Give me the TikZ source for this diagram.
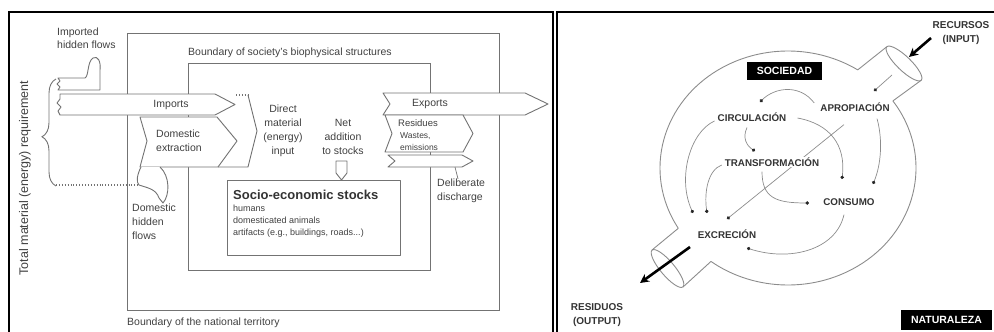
\documentclass[tikz,border=0pt]{standalone}
\usepackage{fontspec}
\setmainfont{Liberation Sans}
\usetikzlibrary{arrows.meta,decorations.pathreplacing,calc,backgrounds}
\begin{document}
\begin{tikzpicture}[x=1pt,y=-1pt,
  frame/.style={draw=black,line width=1.5pt},
  bnd/.style={draw=black!55,line width=0.9pt},
  flow/.style={draw=black!55,line width=0.9pt,fill=white,line join=round},
  lbl/.style={font=\fontsize{10.5}{14}\selectfont,text=black!75,inner sep=0pt},
  small/.style={font=\fontsize{9}{11}\selectfont,text=black!75,inner sep=0pt},
  caplbl/.style={font=\fontsize{9.8}{13}\selectfont\bfseries,text=black!80,inner sep=1pt,fill=white},
  tag/.style={fill=black,text=white,font=\fontsize{10.5}{12}\selectfont\bfseries,inner sep=0pt},
  wall/.style={draw=black!45,line width=0.9pt},
  link/.style={draw=black!45,line width=0.7pt,-{Circle[length=3.4pt,color=black!85]}},
  bigarrow/.style={draw=black,line width=2.6pt,-{Stealth[length=9pt,width=9pt]}}
]
\useasboundingbox (0,0) rectangle (994,332);

% ---------- panel frames ----------
\draw[frame] (9,340) -- (9,12) -- (553,12) -- (553,340);
\draw[frame] (557,340) -- (557,12) -- (1000,12);

% ---------- LEFT PANEL ----------
\draw[bnd] (127,33) rectangle (499,310);
\draw[bnd] (188,63) rectangle (430,270);
\node[lbl,anchor=west] (bsoc) at (188,53) {Boundary of society's biophysical structures};
\node[lbl,anchor=west] (bnat) at (127,323) {Boundary of the national territory};

\node[lbl,rotate=90,font=\fontsize{12.5}{14}\selectfont] (tmr) at (25,178) {Total material (energy) requirement};

% brace and dotted line
\draw[bnd,decorate,decoration={brace,amplitude=14pt,aspect=0.46}] (56,186) -- (56,79);
\coordinate (dotA) at (56,185);
\coordinate (dotB) at (139,185);
\draw[bnd,dotted,line width=1.2pt] (dotA) -- (dotB);

% imported hidden flows (thumb)
\draw[flow] (58,78) -- (85,78) .. controls (89,76) and (87,62) .. (93,58)
  .. controls (98,55) and (101,62) .. (100,70) -- (100,90) -- (58,90)
  -- (60,87) -- (57,84) -- (60,81) -- cycle;
\node[lbl,anchor=west,align=left,font=\fontsize{10.5}{13}\selectfont] (ihf) at (57,38) {Imported\\hidden flows};

% imports
\draw[flow] (60,94) -- (215,94) -- (235,104.5) -- (215,115) -- (60,115)
  -- (58,111) -- (61,107) -- (57,103) -- (60,99) -- cycle;
\node[lbl] (imp) at (171,105) {Imports};

% direct material input region
\coordinate (dmiA) at (236,95);
\coordinate (dmiB) at (248,95);
\draw[bnd,dotted,line width=1.2pt] (dmiA) -- (dmiB);
\draw[bnd] (dmiB) -- (257,131) -- (248,167) -- (218,167);

% domestic extraction
\draw[flow] (140,117) -- (217,117) -- (237,141) -- (218,167) -- (140,167) -- (147,141) -- cycle;
\node[lbl,anchor=west,align=left] (dex) at (156,141) {Domestic\\extraction};

% domestic hidden flows blob
\draw[flow] (141,167) .. controls (137,175) and (136,182) .. (139,185)
  .. controls (148,188) and (156,189) .. (159,198) -- (163,203)
  .. controls (170,195) and (170,176) .. (160,167);
\node[lbl,anchor=north west,align=left] (dhf) at (132,204) {Domestic\\hidden\\flows};

\node[lbl,align=center] (dmi) at (283,131) {Direct\\material\\(energy)\\input};
\node[lbl,align=center] (net) at (343,137) {Net\\addition\\to stocks};

% net addition arrow
\draw[flow] (336,161) -- (347,161) -- (347,173) -- (341.5,180) -- (336,173) -- cycle;

% socio-economic stocks box
\draw[flow] (227,180) rectangle (400,255);
\node[anchor=west,inner sep=0pt,font=\fontsize{13}{15}\selectfont\bfseries,text=black!80] (ses) at (233,195) {Socio-economic stocks};
\node[small,anchor=west] (hum) at (233,208) {humans};
\node[small,anchor=west] (dom) at (233,220) {domesticated animals};
\node[small,anchor=west] (art) at (233,233) {artifacts (e.g., buildings, roads...)};

% exports
\draw[flow] (383,93) -- (525,93) -- (548,104) -- (525,115) -- (383,115) -- (390,104) -- cycle;
\node[lbl] (exp) at (430,104) {Exports};

% residues
\draw[flow] (385,115) -- (463,115) -- (473,133.5) -- (463,152) -- (385,152) -- (392,133.5) -- cycle;
\node[lbl,anchor=west,font=\fontsize{9.5}{11}\selectfont] (res) at (398,123) {Residues};
\node[lbl,anchor=west,font=\fontsize{8.5}{10}\selectfont] (was) at (400,136) {Wastes,};
\node[lbl,anchor=west,font=\fontsize{8.5}{10}\selectfont] (emi) at (400,147) {emissions};

% deliberate discharge
\draw[flow] (388,155) -- (462,155) -- (473,161) -- (462,167) -- (388,167) -- (395,161) -- cycle;
\node[lbl,anchor=west,align=left,font=\fontsize{10.5}{14}\selectfont] (del) at (437,191) {Deliberate\\discharge};
\coordinate (delA) at (455,167);
\draw[bnd,line width=0.7pt] (delA) -- (del.north west -| 458,0) ;

% ---------- RIGHT PANEL ----------
% society circle (two arcs, gaps at the tubes)
\draw[wall] (788,168) ++(325:128 and 117) arc[start angle=325,end angle=487,x radius=128,y radius=117];
\draw[wall] (788,168) ++(149:128 and 117) arc[start angle=149,end angle=303,x radius=128,y radius=117];

% input tube
\draw[wall] (857.7,69.9) -- (886.7,46.8);
\draw[wall] (892.9,100.9) -- (921.3,80.2);
\draw[wall,rotate around={-44:(904,63.5)}] (904,63.5) ellipse[x radius=24,y radius=7];
% output tube
\draw[wall] (678.3,228.3) -- (652,250);
\draw[wall] (711,261.4) -- (683,287);
\draw[wall,rotate around={-50:(667.5,268.5)}] (667.5,268.5) ellipse[x radius=24,y radius=7];

% labels
\node[tag,minimum width=75pt,minimum height=18pt] (soc) at (784.5,71) {SOCIEDAD};
\node[tag,minimum width=91pt,minimum height=20pt] (nat) at (946.5,320) {NATURALEZA};

\node[caplbl] (apro) at (855,107) {APROPIACIÓN};
\node[caplbl] (circ) at (752,117) {CIRCULACIÓN};
\node[caplbl] (trans) at (772,162) {TRANSFORMACIÓN};
\node[caplbl] (cons) at (849,202) {CONSUMO};
\node[caplbl] (excr) at (727,234) {EXCRECIÓN};

\node[caplbl,align=center,fill=none,font=\fontsize{10}{14}\selectfont\bfseries] (rec) at (961,33) {RECURSOS\\(INPUT)};
\node[caplbl,align=center,fill=none,font=\fontsize{10}{14}\selectfont\bfseries] (rsd) at (597,315) {RESIDUOS\\(OUTPUT)};

% big arrows
\coordinate (inS) at (931,38);
\coordinate (inT) at (909,57);
\coordinate (outS) at (690,247);
\coordinate (outT) at (640,283);
\draw[bigarrow] (inS) -- (inT);
\draw[bigarrow] (outS) -- (outT);

% connector dots
\coordinate (inE) at (892,75);
\coordinate (dA) at (874,91);
\coordinate (dC) at (760,102);
\coordinate (dT) at (755,151);
\coordinate (dK1) at (842,179);
\coordinate (dK2) at (873,184);
\coordinate (dK3) at (809,203);
\coordinate (dE1) at (693,213);
\coordinate (dE2) at (707,213);
\coordinate (dE3) at (727,219);
\coordinate (dE4) at (747,248);

\begin{scope}[on background layer]
\draw[link] (inE) -- (dA);
\draw[link] ($(apro.west)+(-5,-4)$) .. controls (800,84) and (775,87) .. (dC);
\draw[link] ($(circ.south)+(-5,5)$) .. controls (742,138) and (747,146) .. (dT);
\draw[link] ($(circ.east)+(10,1)$) .. controls (830,124) and (846,145) .. (dK1);
\draw[link] ($(apro.south)+(22,6)$) .. controls (883,140) and (881,165) .. (dK2);
\draw[link] ($(trans.south)+(-10,4)$) .. controls (762,198) and (776,203) .. (dK3);
\draw[link] ($(apro.south)+(-11,12)$) -- (dE3);
\draw[link] ($(circ.west)+(-2,4)$) .. controls (690,132) and (677,178) .. (dE1);
\draw[link] ($(trans.west)+(-2,3)$) .. controls (708,170) and (704,192) .. (dE2);
\draw[link] ($(cons.south)+(-5,8)$) .. controls (836,250) and (790,262) .. (dE4);
\end{scope}
\end{tikzpicture}
\end{document}
